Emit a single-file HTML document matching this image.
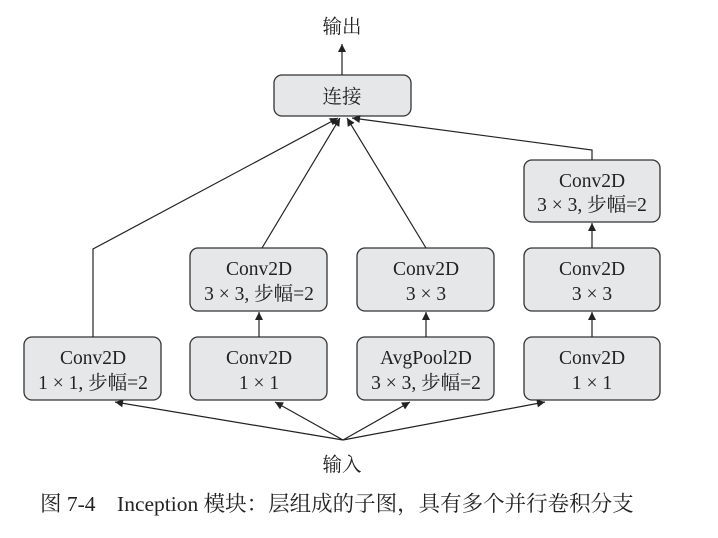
<!DOCTYPE html>
<html><head><meta charset="utf-8"><style>
body{margin:0;background:#fff;}
svg text{font-family:"Liberation Serif","Noto Serif CJK SC",serif;fill:#222;}
</style></head><body>
<svg width="718" height="533" viewBox="0 0 718 533" xmlns="http://www.w3.org/2000/svg">
<defs><marker id="a" viewBox="0 0 10 10" refX="10" refY="5" markerWidth="12" markerHeight="8" orient="auto" markerUnits="userSpaceOnUse"><path d="M0,0L10,5L0,10z" fill="#222"/></marker></defs>
<g fill="#e6e7e9" stroke="#333" stroke-width="1.3">
<rect x="274" y="75" width="137" height="41" rx="8"/>
<rect x="524" y="160" width="136" height="62" rx="8"/>
<rect x="190" y="248" width="137" height="63" rx="8"/>
<rect x="357" y="248" width="137" height="63" rx="8"/>
<rect x="524" y="248" width="136" height="63" rx="8"/>
<rect x="24" y="337" width="137" height="63" rx="8"/>
<rect x="190" y="337" width="137" height="63" rx="8"/>
<rect x="357" y="337" width="137" height="63" rx="8"/>
<rect x="524" y="337" width="136" height="63" rx="8"/>
</g>
<g stroke="#222" stroke-width="1.2" fill="none" marker-end="url(#a)">
<path d="M342,75V44"/>
<path d="M93,337V249L338,118"/>
<path d="M262,248L340,118"/>
<path d="M426,248L347,118"/>
<path d="M592,160V150L352,118"/>
<path d="M592,248V223"/>
<path d="M592,337V312"/>
<path d="M259,337V312"/>
<path d="M426,337V312"/>
<path d="M343,440L115,402"/>
<path d="M343,440L275,402"/>
<path d="M343,440L410,402"/>
<path d="M343,440L545,402"/>
</g>
<g font-size="19.5" text-anchor="middle">
<text x="342" y="33">输出</text>
<text x="342" y="103">连接</text>
<text x="592" y="187">Conv2D</text><text x="592" y="211">3 × 3, 步幅=2</text>
<text x="259" y="275">Conv2D</text><text x="259" y="300">3 × 3, 步幅=2</text>
<text x="426" y="275">Conv2D</text><text x="426" y="300">3 × 3</text>
<text x="592" y="275">Conv2D</text><text x="592" y="300">3 × 3</text>
<text x="93" y="364">Conv2D</text><text x="93" y="389">1 × 1, 步幅=2</text>
<text x="259" y="364">Conv2D</text><text x="259" y="389">1 × 1</text>
<text x="426" y="364">AvgPool2D</text><text x="426" y="389">3 × 3, 步幅=2</text>
<text x="592" y="364">Conv2D</text><text x="592" y="389">1 × 1</text>
<text x="342" y="471">输入</text>
</g>
<text x="40" y="511" font-size="21.5">图 7-4　Inception 模块：层组成的子图，具有多个并行卷积分支</text>
</svg>
</body></html>
